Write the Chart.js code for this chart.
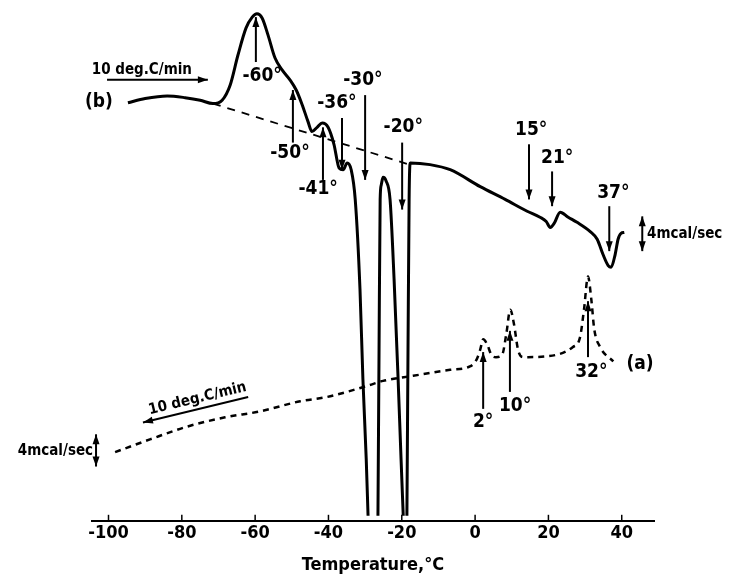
<!DOCTYPE html>
<html>
<head>
<meta charset="utf-8">
<script src="https://cdn.jsdelivr.net/npm/chart.js@4.4.1/dist/chart.umd.min.js"></script>
<style>
  html, body { margin: 0; padding: 0; background: #fff; }
  #wrap { width: 734px; height: 578px; }
</style>
</head>
<body>
<div id="wrap"><canvas id="dsc"></canvas></div>
<script>
// (b) heating trace, solid; null = trace goes off scale
const bTemp = [-94.7, -90.0, -84.0, -79.1, -75.0, -71.5, -69.0, -66.8, -64.7, -62.5, -60.8, -59.5, -58.1, -56.5, -54.6,
  -52.7, -50.5, -48.8, -47.2, -45.6, -44.5, -43.1, -41.7, -40.1, -38.5, -37.1, -36.0, -34.9, -33.8, -32.7, -31.4,
  -30.6, -29.7, -29.2, -27.9, -26.5, -26.2, -25.9, -25.6, -25.1, -24.3, -23.2, -22.1, -21.0, -20.2, -19.6, -19.1,
  -18.6, -18.3, -18.0, -17.7, -12.3, -6.8, 1.4, 8.2, 14.2, 17.7, 19.4, 20.5, 21.6, 23.2, 25.4, 27.8, 31.4, 33.3,
  34.9, 36.3, 37.1, 38.2, 39.0, 39.8, 40.7];
const bSignal = [49.3, 49.8, 50.1, 49.9, 49.6, 49.2, 49.6, 51.4, 54.9, 58.1, 59.4, 59.8, 59.3, 57.3, 54.6,
  53.2, 52.0, 50.8, 49.1, 47.1, 45.9, 46.4, 46.9, 46.4, 44.4, 41.6, 41.4, 42.2, 41.4, 37.9, 27.3,
  16.7, 7.3, 0.6, null, 0.6, 20.2, 37.9, 39.6, 40.5, 40.1, 37.9, 28.5, 16.7, 7.3, 0.6, null,
  0.6, 20.2, 37.9, 42.2, 42.0, 41.4, 39.4, 37.9, 36.5, 35.8, 35.3, 34.6, 35.1, 36.4, 35.8, 35.2, 34.1, 33.2,
  31.4, 30.1, 29.9, 31.4, 33.2, 33.9, 34.0];

// extrapolated baseline under (b)
const baseTemp = [-71.5, -18.6];
const baseSignal = [49.2, 42.1];

// (a) cooling trace, dashed
const aTemp = [-98.2, -88.7, -78.6, -68.2, -58.7, -47.7, -40.4, -29.5, -25.1, -16.9, -6.8, -1.4, 0.5, 1.4, 2.2,
  3.3, 4.4, 5.7, 7.4, 8.5, 9.6, 10.6, 11.7, 13.0, 19.6, 26.7, 28.6, 29.7, 30.8, 31.7, 32.5, 34.1, 37.7];
const aSignal = [8.1, 9.6, 11.1, 12.2, 12.9, 14.1, 14.6, 15.9, 16.5, 17.1, 17.8, 18.2, 19.1, 20.2, 21.4,
  20.8, 19.6, 19.3, 19.6, 22.0, 24.9, 23.2, 20.2, 19.3, 19.4, 20.5, 21.6, 24.9, 28.8, 26.1, 22.6, 20.5, 18.8];

const tickValues = [-100, -80, -60, -40, -20, 0, 20, 40];

// arrows: [temp1, signal1, temp2, signal2, heads]
const arrows = [
  [-100.4, 52.0, -72.9, 52.0, 'end'],
  [-59.8, 54.1, -59.8, 59.4, 'end'],
  [-49.7, 44.6, -49.7, 50.8, 'end'],
  [-41.5, 40.2, -41.5, 46.4, 'end'],
  [-36.3, 47.5, -36.3, 41.4, 'end'],
  [-30.0, 50.2, -30.0, 40.2, 'end'],
  [-19.9, 44.6, -19.9, 36.7, 'end'],
  [14.7, 44.4, 14.7, 37.9, 'end'],
  [21.0, 41.2, 21.0, 37.1, 'end'],
  [36.6, 37.1, 36.6, 31.8, 'end'],
  [45.6, 35.9, 45.6, 31.8, 'both'],
  [2.2, 13.2, 2.2, 19.9, 'end'],
  [9.5, 15.2, 9.5, 22.4, 'end'],
  [30.8, 19.3, 30.8, 25.9, 'end'],
  [-61.9, 14.6, -90.6, 11.6, 'end'],
  [-103.4, 10.2, -103.4, 6.4, 'both']
];

// labels: [text, temp, signal, align, size]
const labels = [
  ['(b)', -102.6, 49.4, 'center', 19],
  ['10 deg.C/min', -90.9, 53.2, 'center', 15],
  ['-60°', -58.1, 52.4, 'center', 19],
  ['-50°', -50.5, 43.4, 'center', 19],
  ['-41°', -42.8, 39.1, 'center', 19],
  ['-36°', -37.7, 49.3, 'center', 19],
  ['-30°', -30.6, 52.0, 'center', 19],
  ['-20°', -19.6, 46.4, 'center', 19],
  ['15°', 15.3, 46.1, 'center', 19],
  ['21°', 22.4, 42.8, 'center', 19],
  ['37°', 37.7, 38.7, 'center', 19],
  ['4mcal/sec', 46.9, 33.8, 'left', 15],
  ['(a)', 45.0, 18.5, 'center', 19],
  ['2°', 2.2, 11.6, 'center', 19],
  ['10°', 10.9, 13.5, 'center', 19],
  ['32°', 31.7, 17.5, 'center', 19],
  ['4mcal/sec', -104.2, 8.2, 'right', 15]
];

const fontFamily = '"DejaVu Sans Condensed", "DejaVu Sans", sans-serif';

function pts(xs, ys) {
  return xs.map((x, i) => ({ x: x, y: ys[i] }));
}

function drawArrow(ctx, x1, y1, x2, y2, heads) {
  ctx.beginPath();
  ctx.moveTo(x1, y1);
  ctx.lineTo(x2, y2);
  ctx.stroke();
  const head = (xa, ya, xb, yb) => {
    const ang = Math.atan2(yb - ya, xb - xa);
    const len = 10, w = 3.5;
    ctx.beginPath();
    ctx.moveTo(xb, yb);
    ctx.lineTo(xb - len * Math.cos(ang) + w * Math.sin(ang), yb - len * Math.sin(ang) - w * Math.cos(ang));
    ctx.lineTo(xb - len * Math.cos(ang) - w * Math.sin(ang), yb - len * Math.sin(ang) + w * Math.cos(ang));
    ctx.closePath();
    ctx.fill();
  };
  head(x1, y1, x2, y2);
  if (heads === 'both') head(x2, y2, x1, y1);
}

const notes = {
  id: 'notes',
  afterDraw(chart) {
    const ctx = chart.ctx;
    const xs = chart.scales.x, ys = chart.scales.y;
    ctx.save();
    ctx.strokeStyle = '#000';
    ctx.fillStyle = '#000';

    // small ticks pointing up from the axis
    ctx.lineWidth = 1.5;
    tickValues.forEach(t => {
      const px = xs.getPixelForValue(t);
      ctx.beginPath();
      ctx.moveTo(px, ys.bottom);
      ctx.lineTo(px, ys.bottom - 6);
      ctx.stroke();
    });

    ctx.lineWidth = 2;
    arrows.forEach(a => {
      drawArrow(ctx, xs.getPixelForValue(a[0]), ys.getPixelForValue(a[1]),
        xs.getPixelForValue(a[2]), ys.getPixelForValue(a[3]), a[4]);
    });

    ctx.textBaseline = 'middle';
    labels.forEach(l => {
      ctx.font = '600 ' + l[4] + 'px ' + fontFamily;
      ctx.textAlign = l[3];
      ctx.fillText(l[0], xs.getPixelForValue(l[1]), ys.getPixelForValue(l[2]));
    });

    // rate label for (a), laid along its arrow
    const r = arrows[14];
    const ax1 = xs.getPixelForValue(r[0]), ay1 = ys.getPixelForValue(r[1]);
    const ax2 = xs.getPixelForValue(r[2]), ay2 = ys.getPixelForValue(r[3]);
    ctx.translate((ax1 + ax2) / 2 + 2, (ay1 + ay2) / 2 - 11);
    ctx.rotate(Math.atan2(ay1 - ay2, ax1 - ax2));
    ctx.font = '600 15px ' + fontFamily;
    ctx.textAlign = 'center';
    ctx.fillText('10 deg.C/min', 0, 0);
    ctx.restore();
  }
};

new Chart(document.getElementById('dsc'), {
  type: 'line',
  data: {
    datasets: [
      {
        data: pts(bTemp, bSignal),
        borderColor: '#000',
        borderWidth: 3,
        pointRadius: 0,
        cubicInterpolationMode: 'monotone',
        spanGaps: false
      },
      {
        data: pts(baseTemp, baseSignal),
        borderColor: '#000',
        borderWidth: 1.8,
        borderDash: [8, 7],
        pointRadius: 0
      },
      {
        data: pts(aTemp, aSignal),
        borderColor: '#000',
        borderWidth: 2.5,
        borderDash: [6, 5],
        pointRadius: 0,
        cubicInterpolationMode: 'monotone'
      }
    ]
  },
  options: {
    responsive: true,
    maintainAspectRatio: false,
    animation: false,
    layout: { padding: { left: 92, right: 80, top: 12, bottom: 0 } },
    plugins: { legend: { display: false }, tooltip: { enabled: false } },
    scales: {
      x: {
        type: 'linear',
        min: -104.5,
        max: 48.8,
        afterBuildTicks: (axis) => { axis.ticks = tickValues.map(v => ({ value: v })); },
        grid: { display: false, drawTicks: false },
        border: { display: true, color: '#000', width: 2 },
        ticks: {
          color: '#000',
          padding: 2,
          font: { family: fontFamily, size: 18, weight: '600' },
          callback: (v) => String(v)
        },
        title: {
          display: true,
          text: 'Temperature,°C',
          color: '#000',
          font: { family: fontFamily, size: 18, weight: '600' },
          padding: { top: 8, bottom: 2 }
        }
      },
      y: {
        display: false,
        min: 0,
        max: 60
      }
    }
  },
  plugins: [notes]
});
</script>
</body>
</html>
